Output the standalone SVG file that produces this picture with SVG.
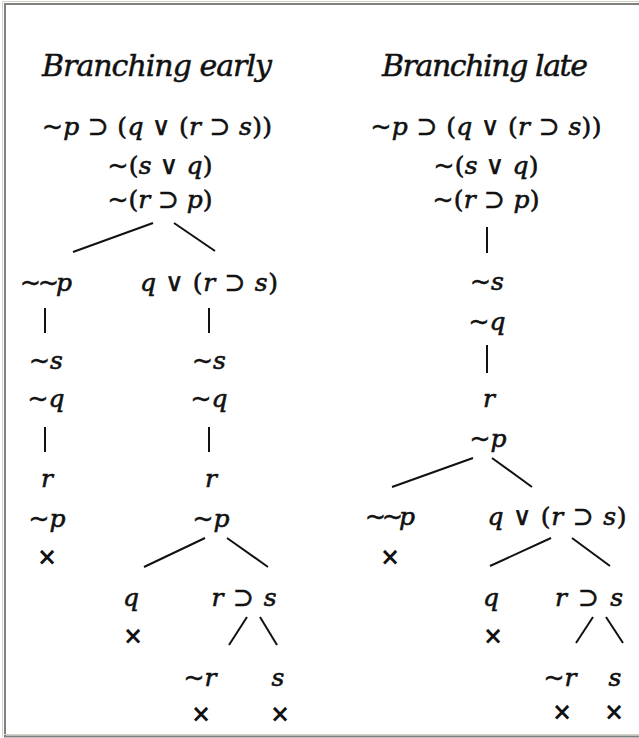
<svg xmlns="http://www.w3.org/2000/svg" width="639" height="738" viewBox="0 0 639 738">
<style>
.t{font-family:"DejaVu Serif","Liberation Serif",serif;font-style:italic;font-size:30px;fill:#111;stroke:#111;stroke-width:0.5;text-anchor:middle}
.f{font-family:"DejaVu Serif","Liberation Serif",serif;font-style:italic;font-size:25px;fill:#111;stroke:#111;stroke-width:0.6;text-anchor:middle}
.o{font-style:normal}
.x{font-family:"DejaVu Sans","Liberation Sans",sans-serif;font-weight:bold;font-size:24px;fill:#111;text-anchor:middle}
.c line{stroke:#111;stroke-width:2;stroke-linecap:butt}
</style>
<rect x="0" y="0" width="639" height="738" fill="#fff"/>
<g id="frame" fill="none">
<path d="M2.5 737V1.5H639" stroke="#d4d0c8" stroke-width="1"/>
<path d="M5 737V4H639" stroke="#808080" stroke-width="2"/>
<path d="M4 734.5H639" stroke="#d4d0c8" stroke-width="1"/>
<path d="M4 736.5H639" stroke="#808080" stroke-width="2"/>
</g>
<g class="c" id="connectors">
<line x1="153" y1="223" x2="73" y2="252"/>
<line x1="174" y1="223" x2="215" y2="251"/>
<line x1="45" y1="308" x2="45" y2="333"/>
<line x1="209" y1="308" x2="209" y2="333"/>
<line x1="45" y1="427" x2="45" y2="452"/>
<line x1="209" y1="427" x2="209" y2="452"/>
<line x1="205" y1="538" x2="144" y2="567"/>
<line x1="227" y1="538" x2="268" y2="567"/>
<line x1="247" y1="617" x2="229" y2="645"/>
<line x1="260" y1="617" x2="277" y2="645"/>
<line x1="487" y1="227" x2="487" y2="253"/>
<line x1="487" y1="345" x2="487" y2="373"/>
<line x1="473" y1="458" x2="392" y2="487"/>
<line x1="492" y1="458" x2="532" y2="487"/>
<line x1="551" y1="538" x2="490" y2="566"/>
<line x1="572" y1="538" x2="610" y2="566"/>
<line x1="593" y1="617" x2="576" y2="643"/>
<line x1="606" y1="617" x2="623" y2="643"/>
</g>
<g id="left-title"><text class="t" x="157" y="76" textLength="230">Branching early</text></g>
<g id="right-title"><text class="t" x="485" y="76" textLength="206">Branching late</text></g>
<g id="L1"><text class="f" x="157" y="135" textLength="230">~p <tspan class="o">⊃</tspan> <tspan class="o">(</tspan>q <tspan class="o">∨</tspan> <tspan class="o">(</tspan>r <tspan class="o">⊃</tspan> s<tspan class="o">))</tspan></text></g>
<g id="L2"><text class="f" x="160" y="174" textLength="105">~<tspan class="o">(</tspan>s <tspan class="o">∨</tspan> q<tspan class="o">)</tspan></text></g>
<g id="L3"><text class="f" x="160" y="208" textLength="105">~<tspan class="o">(</tspan>r <tspan class="o">⊃</tspan> p<tspan class="o">)</tspan></text></g>
<g id="L4a"><text class="f" x="46" y="291" textLength="52">~~p</text></g>
<g id="L4b"><text class="f" x="209" y="291" textLength="138">q <tspan class="o">∨</tspan> <tspan class="o">(</tspan>r <tspan class="o">⊃</tspan> s<tspan class="o">)</tspan></text></g>
<g id="L5a"><text class="f" x="46" y="369">~s</text></g>
<g id="L5b"><text class="f" x="209" y="369">~s</text></g>
<g id="L6a"><text class="f" x="46" y="407">~q</text></g>
<g id="L6b"><text class="f" x="209" y="407">~q</text></g>
<g id="L7a"><text class="f" x="47" y="487">r</text></g>
<g id="L7b"><text class="f" x="211" y="487">r</text></g>
<g id="L8a"><text class="f" x="47" y="527">~p</text></g>
<g id="L8b"><text class="f" x="211" y="527">~p</text></g>
<g id="Lx1"><text class="x" x="47" y="565">×</text></g>
<g id="L9a"><text class="f" x="131" y="606">q</text></g>
<g id="L9b"><text class="f" x="244" y="606" textLength="65">r <tspan class="o">⊃</tspan> s</text></g>
<g id="Lx2"><text class="x" x="133" y="644">×</text></g>
<g id="L10a"><text class="f" x="200" y="686">~r</text></g>
<g id="L10b"><text class="f" x="278" y="686">s</text></g>
<g id="Lx3"><text class="x" x="201" y="722">×</text></g>
<g id="Lx4"><text class="x" x="280" y="722">×</text></g>
<g id="R1"><text class="f" x="486" y="135" textLength="231">~p <tspan class="o">⊃</tspan> <tspan class="o">(</tspan>q <tspan class="o">∨</tspan> <tspan class="o">(</tspan>r <tspan class="o">⊃</tspan> s<tspan class="o">))</tspan></text></g>
<g id="R2"><text class="f" x="486" y="174" textLength="105">~<tspan class="o">(</tspan>s <tspan class="o">∨</tspan> q<tspan class="o">)</tspan></text></g>
<g id="R3"><text class="f" x="486" y="208" textLength="107">~<tspan class="o">(</tspan>r <tspan class="o">⊃</tspan> p<tspan class="o">)</tspan></text></g>
<g id="R4"><text class="f" x="487" y="290">~s</text></g>
<g id="R5"><text class="f" x="487" y="330">~q</text></g>
<g id="R6"><text class="f" x="489" y="407">r</text></g>
<g id="R7"><text class="f" x="488" y="447">~p</text></g>
<g id="R8a"><text class="f" x="390" y="525" textLength="50">~~p</text></g>
<g id="R8b"><text class="f" x="557" y="525" textLength="139">q <tspan class="o">∨</tspan> <tspan class="o">(</tspan>r <tspan class="o">⊃</tspan> s<tspan class="o">)</tspan></text></g>
<g id="Rx1"><text class="x" x="390" y="565">×</text></g>
<g id="R9a"><text class="f" x="491" y="606">q</text></g>
<g id="R9b"><text class="f" x="589" y="606" textLength="68">r <tspan class="o">⊃</tspan> s</text></g>
<g id="Rx2"><text class="x" x="493" y="644">×</text></g>
<g id="R10a"><text class="f" x="560" y="686">~r</text></g>
<g id="R10b"><text class="f" x="615" y="686">s</text></g>
<g id="Rx3"><text class="x" x="562" y="720">×</text></g>
<g id="Rx4"><text class="x" x="614" y="720">×</text></g>
</svg>
